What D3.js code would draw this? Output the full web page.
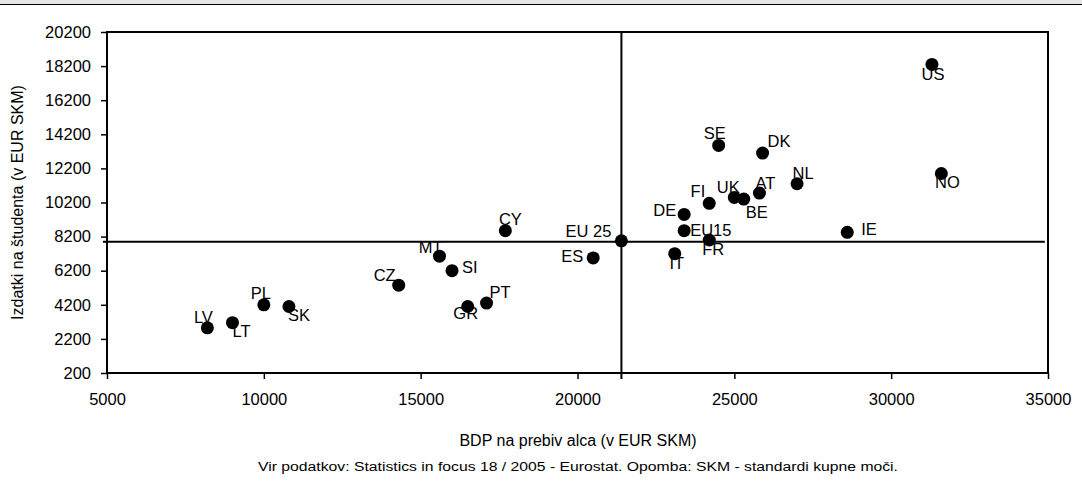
<!DOCTYPE html>
<html>
<head>
<meta charset="utf-8">
<script src="https://cdn.jsdelivr.net/npm/d3@7"></script>
<style>
  html, body { margin: 0; padding: 0; background: #fff; }
  svg { display: block; font-family: "Liberation Sans", Arial, sans-serif; }
</style>
</head>
<body>
<svg id="chart" width="1082" height="489"></svg>
<script>
// ---- data ----
const countries = ["LV","LT","PL","SK","CZ","MT","SI","GR","PT","CY","ES","EU 25","IT","DE","EU15","FR","FI","UK","BE","AT","SE","DK","NL","IE","US","NO"];
const gdpPerCapita = [8200, 9000, 10000, 10800, 14300, 15600, 16000, 16500, 17100, 17700, 20500, 21400, 23100, 23400, 23400, 24200, 24200, 25000, 25300, 25800, 24500, 25900, 27000, 28600, 31300, 31600];
const spendingPerStudent = [2850, 3150, 4200, 4100, 5350, 7050, 6200, 4100, 4300, 8550, 6950, 7950, 7200, 9500, 8550, 8000, 10150, 10500, 10400, 10750, 13550, 13100, 11300, 8450, 18300, 11900];
const xTicks = [5000, 10000, 15000, 20000, 25000, 30000, 35000];
const yTicks = [200, 2200, 4200, 6200, 8200, 10200, 12200, 14200, 16200, 18200, 20200];
const refX = 21400;   // EU 25 reference lines
const refY = 7900;
const xTitle = "BDP na prebiv alca (v  EUR SKM)";
const yTitle = "Izdatki na študenta (v EUR SKM)";
const footer = "Vir podatkov: Statistics in focus 18 / 2005 - Eurostat. Opomba: SKM - standardi kupne moči.";

// ---- label layout (anchor, dx, dy in px relative to marker) ----
const labelLayout = {
  "LV": ["middle", -4, -5], "LT": ["start", 0, 14], "PL": ["middle", -3, -6], "SK": ["start", -1, 14],
  "CZ": ["end", -3, -4], "MT": ["end", 3, -3], "SI": ["start", 10, 2], "GR": ["middle", -2, 12],
  "PT": ["start", 3, -5], "CY": ["middle", 5, -6], "ES": ["end", -10, 4], "EU 25": ["end", -10, -4],
  "IT": ["middle", 2, 15], "DE": ["end", -8, 2], "EU15": ["start", 6, 5], "FR": ["middle", 4, 15],
  "FI": ["end", -4, -6], "UK": ["middle", -6, -4], "BE": ["start", 2, 19], "AT": ["middle", 6, -4],
  "SE": ["middle", -4, -6], "DK": ["start", 5, -6], "NL": ["middle", 6, -5], "IE": ["start", 14, 3],
  "US": ["middle", 1, 16], "NO": ["middle", 6, 14]
};

(function () {
const svg = d3.select("#chart");
const mL = 107, mR = 1048, mT = 32, mB = 373;

const x = d3.scaleLinear().domain([5000, 35000]).range([mL, mR]);
const y = d3.scaleLinear().domain([200, 20200]).range([mB, mT]);

// top band
svg.append("rect").attr("x", 0).attr("y", 0).attr("width", 1082).attr("height", 4).attr("fill", "#e6e6e6");
svg.append("line").attr("x1", 0).attr("x2", 1082).attr("y1", 4.5).attr("y2", 4.5).attr("stroke", "#000").attr("stroke-width", 1);

// axes
const yAxis = d3.axisLeft(y).tickValues(yTicks).tickSize(6).tickPadding(10).tickFormat(d3.format("d"));
const gy = svg.append("g").attr("transform", `translate(${mL},0)`).call(yAxis);
const xAxis = d3.axisBottom(x).tickValues(xTicks).tickSize(6).tickPadding(14).tickFormat(d3.format("d"));
const gx = svg.append("g").attr("transform", `translate(0,${mB})`).call(xAxis);
[gx, gy].forEach(g => {
  g.select(".domain").remove();
  g.selectAll(".tick line").attr("stroke", "#000").attr("stroke-width", 1.5);
  g.selectAll(".tick text").attr("fill", "#000").style("font-size", "16.5px").style("font-family", '"Liberation Sans", Arial, sans-serif');
});

// frame
svg.append("rect").attr("x", mL).attr("y", mT).attr("width", mR - mL).attr("height", mB - mT)
  .attr("fill", "none").attr("stroke", "#000").attr("stroke-width", 2);

// reference lines
svg.append("line").attr("x1", x(4870)).attr("x2", x(34900)).attr("y1", y(refY)).attr("y2", y(refY))
  .attr("stroke", "#000").attr("stroke-width", 2);
svg.append("line").attr("x1", x(refX)).attr("x2", x(refX)).attr("y1", y(20200)).attr("y2", y(-150))
  .attr("stroke", "#000").attr("stroke-width", 2);

const pts = countries.map((c, i) => ({ c, gx: gdpPerCapita[i], sy: spendingPerStudent[i] }));

// labels
svg.append("g").selectAll("text").data(pts).join("text")
  .attr("x", d => x(d.gx) + labelLayout[d.c][1])
  .attr("y", d => y(d.sy) + labelLayout[d.c][2])
  .attr("text-anchor", d => labelLayout[d.c][0])
  .style("font-size", "16.5px").attr("fill", "#000")
  .text(d => d.c);

// markers
svg.append("g").selectAll("circle").data(pts).join("circle")
  .attr("cx", d => x(d.gx)).attr("cy", d => y(d.sy)).attr("r", 6.5).attr("fill", "#000");

// titles
svg.append("text").attr("x", 578).attr("y", 446).attr("text-anchor", "middle")
  .style("font-size", "16px").attr("fill", "#000").text(xTitle);
svg.append("text").attr("transform", `translate(23,${(mT + mB) / 2}) rotate(-90)`).attr("text-anchor", "middle")
  .style("font-size", "16px").attr("fill", "#000").text(yTitle);
svg.append("text").attr("x", 578).attr("y", 471).attr("text-anchor", "middle")
  .attr("textLength", 640).attr("lengthAdjust", "spacingAndGlyphs")
  .style("font-size", "12.5px").attr("fill", "#000").text(footer);
})();
</script>
</body>
</html>
